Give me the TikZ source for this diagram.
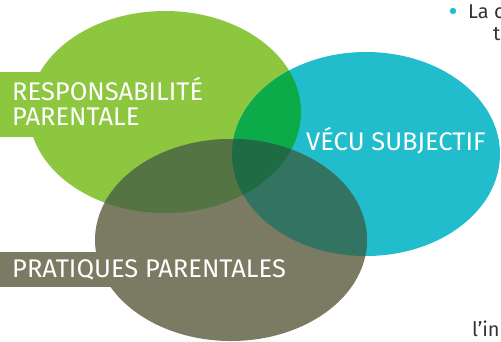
\documentclass[tikz,border=0pt]{standalone}
\usepackage{fontspec}
\setmainfont{Fira Sans}
\definecolor{cgreen}{HTML}{8DC63F}
\definecolor{cblue}{HTML}{22BDCD}
\definecolor{cbrown}{HTML}{7B7A62}
\definecolor{cgb}{HTML}{0DAA4A}
\definecolor{cgbr}{HTML}{547444}
\definecolor{cbbr}{HTML}{337361}
\definecolor{call}{HTML}{1F6B44}
\definecolor{ctext}{HTML}{333333}
\tikzset{
  lbl/.style={anchor=base west, inner sep=0pt, text=white, font=\fontsize{25.5}{27}\selectfont},
  body/.style={anchor=base west, inner sep=0pt, text=ctext, font=\fontsize{20}{22}\selectfont},
}
\begin{document}
\begin{tikzpicture}[x=1pt,y=-1pt]
\useasboundingbox (0,0) rectangle (501,341);
\begin{scope}
\clip (0,0) rectangle (501,341);
% banners
\fill[cgreen] (0,72) rectangle (200,137);
\fill[cbrown] (0,252) rectangle (160,287);
% ellipses
\def\GE{(165,112) ellipse [x radius=136, y radius=101]}
\def\BE{(366,154) ellipse [x radius=134, y radius=102]}
\def\RE{(231,240) ellipse [x radius=136, y radius=101]}
\fill[cgreen] \GE;
\fill[cblue] \BE;
\fill[cbrown] \RE;
\begin{scope}\clip \GE; \fill[cgb] \BE; \end{scope}
\begin{scope}\clip \GE; \fill[cgbr] \RE; \end{scope}
\begin{scope}\clip \BE; \fill[cbbr] \RE; \end{scope}
\begin{scope}\clip \GE; \clip \BE; \fill[call] \RE; \end{scope}
% labels
\node[lbl] (resp) at (12,100) {RESPONSABILITÉ};
\node[lbl] (par) at (12,125) {PARENTALE};
\node[lbl] (vecu) at (306,150) {VÉCU SUBJECTIF};
\node[lbl] (prat) at (12,277) {PRATIQUES PARENTALES};
% page text fragments
\fill[cblue] (453,11) circle (3.2);
\node[body] (la) at (468,18) {La c};
\node[body] (t) at (493,40) {t};
\node[body] (lin) at (472,336) {l'in};
\end{scope}
\end{tikzpicture}
\end{document}
